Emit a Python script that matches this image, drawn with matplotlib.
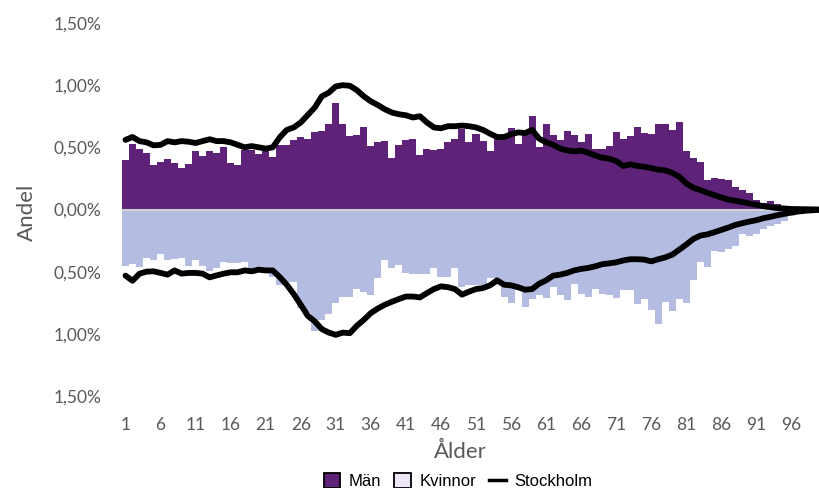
import matplotlib
matplotlib.use("Agg")
import matplotlib.pyplot as plt
from matplotlib.patches import Patch
from matplotlib.lines import Line2D
import numpy as np

ages = list(range(1, 101))

# Andel män (%), per ålder
man = [0.395, 0.53, 0.49, 0.457, 0.355, 0.385, 0.41, 0.377, 0.336, 0.368,
       0.473, 0.43, 0.473, 0.457, 0.50, 0.37, 0.36, 0.475, 0.48, 0.45,
       0.47, 0.42, 0.516, 0.516, 0.56, 0.583, 0.57, 0.626, 0.635, 0.69,
       0.86, 0.69, 0.59, 0.60, 0.66, 0.51, 0.546, 0.554, 0.417, 0.516,
       0.56, 0.567, 0.44, 0.49, 0.48, 0.49, 0.54, 0.57, 0.645, 0.546,
       0.61, 0.55, 0.473, 0.575, 0.58, 0.653, 0.527, 0.62, 0.755, 0.50,
       0.685, 0.60, 0.556, 0.635, 0.60, 0.54, 0.61, 0.49, 0.49, 0.51,
       0.62, 0.57, 0.59, 0.66, 0.613, 0.605, 0.69, 0.685, 0.64, 0.70,
       0.468, 0.417, 0.38, 0.236, 0.25, 0.242, 0.234, 0.183, 0.153, 0.134,
       0.08, 0.054, 0.065, 0.043, 0.03, 0.02, 0.015, 0.01, 0.005, 0.003]

# Andel kvinnor (%), per ålder
kvinnor = [0.457, 0.435, 0.46, 0.39, 0.41, 0.355, 0.41, 0.395, 0.39, 0.457,
           0.403, 0.457, 0.497, 0.47, 0.425, 0.43, 0.43, 0.42, 0.52, 0.48,
           0.48, 0.54, 0.605, 0.58, 0.58, 0.79, 0.83, 0.976, 0.887, 0.84,
           0.75, 0.707, 0.707, 0.64, 0.66, 0.69, 0.55, 0.41, 0.47, 0.45,
           0.51, 0.516, 0.516, 0.516, 0.47, 0.54, 0.545, 0.47, 0.62, 0.61,
           0.605, 0.61, 0.55, 0.59, 0.70, 0.75, 0.65, 0.785, 0.718, 0.69,
           0.71, 0.62, 0.69, 0.726, 0.597, 0.68, 0.70, 0.64, 0.68, 0.685,
           0.71, 0.65, 0.645, 0.76, 0.72, 0.806, 0.92, 0.74, 0.82, 0.72,
           0.75, 0.57, 0.425, 0.46, 0.336, 0.34, 0.317, 0.296, 0.20, 0.215,
           0.194, 0.156, 0.13, 0.113, 0.094, 0.054, 0.035, 0.02, 0.01, 0.005]

# Stockholm, män (%)
sthlm_man = [0.56, 0.583, 0.55, 0.54, 0.516, 0.52, 0.55, 0.54, 0.55, 0.545,
             0.535, 0.55, 0.565, 0.55, 0.55, 0.54, 0.52, 0.50, 0.51, 0.50,
             0.49, 0.50, 0.58, 0.64, 0.66, 0.70, 0.76, 0.82, 0.91, 0.94,
             0.99, 1.00, 0.995, 0.96, 0.91, 0.87, 0.84, 0.806, 0.78, 0.766,
             0.758, 0.74, 0.75, 0.70, 0.66, 0.653, 0.67, 0.67, 0.675, 0.67,
             0.66, 0.64, 0.61, 0.583, 0.583, 0.605, 0.62, 0.615, 0.64, 0.57,
             0.54, 0.52, 0.49, 0.475, 0.468, 0.473, 0.457, 0.435, 0.417, 0.408,
             0.39, 0.35, 0.363, 0.35, 0.344, 0.333, 0.32, 0.315, 0.295, 0.263,
             0.21, 0.175, 0.156, 0.135, 0.115, 0.097, 0.08, 0.07, 0.06, 0.048,
             0.038, 0.027, 0.019, 0.011, 0.008, 0.004, 0.003, 0.002, 0.001, 0.0]

# Stockholm, kvinnor (%)
sthlm_kv = [0.532, 0.573, 0.516, 0.50, 0.497, 0.51, 0.524, 0.49, 0.516, 0.51,
            0.51, 0.516, 0.546, 0.53, 0.516, 0.505, 0.505, 0.49, 0.497, 0.484,
            0.49, 0.49, 0.543, 0.605, 0.68, 0.766, 0.855, 0.90, 0.962, 0.99,
            1.008, 0.99, 0.995, 0.935, 0.887, 0.833, 0.796, 0.766, 0.742, 0.72,
            0.70, 0.70, 0.707, 0.672, 0.64, 0.618, 0.625, 0.64, 0.685, 0.661,
            0.64, 0.632, 0.61, 0.57, 0.605, 0.61, 0.625, 0.645, 0.64, 0.597,
            0.57, 0.532, 0.524, 0.51, 0.49, 0.478, 0.47, 0.457, 0.44, 0.433,
            0.425, 0.41, 0.40, 0.40, 0.403, 0.417, 0.40, 0.385, 0.363, 0.323,
            0.282, 0.237, 0.21, 0.20, 0.183, 0.164, 0.145, 0.124, 0.11, 0.097,
            0.086, 0.07, 0.059, 0.046, 0.035, 0.024, 0.016, 0.01, 0.006, 0.003]

xtick_labels = list(range(1, 97, 5))
ytick_vals = [-1.5, -1.0, -0.5, 0.0, 0.5, 1.0, 1.5]

PURPLE = "#5e2378"
LIGHT = "#b4bde1"
GRAY = "#595959"

fig = plt.figure(figsize=(8.2, 4.88), dpi=100)
ax = fig.add_axes([122/820, 1 - 396/488, (823 - 122)/820, (396 - 23)/488])

x = np.array(ages)
ax.bar(x, man, width=1.0, color=PURPLE, linewidth=0, zorder=2)
ax.bar(x, -np.array(kvinnor), width=1.0, color=LIGHT, linewidth=0, zorder=2)
ax.axhline(0, color="#d0d0d0", lw=1.5, zorder=3)
ax.plot(x, sthlm_man, color="black", lw=4.2, solid_joinstyle="round",
        solid_capstyle="round", zorder=4)
ax.plot(x, -np.array(sthlm_kv), color="black", lw=4.2, solid_joinstyle="round",
        solid_capstyle="round", zorder=4)

ax.set_xlim(0.5, 100.5)
ax.set_ylim(-1.5, 1.5)
for s in ax.spines.values():
    s.set_visible(False)

ax.set_yticks(ytick_vals)
ax.set_yticklabels([f"{abs(v):.2f}%".replace(".", ",") for v in ytick_vals],
                   fontsize=12.5, color=GRAY, family="Lato")
ax.set_xticks(xtick_labels)
ax.set_xticklabels([str(v) for v in xtick_labels], fontsize=12.5, color=GRAY,
                   family="Lato")
ax.tick_params(axis="y", length=0, pad=15)
ax.tick_params(axis="x", length=0, pad=15)

fig.text(27/820, 1 - 212/488, "Andel", rotation=90, ha="center", va="center",
         fontsize=16, color=GRAY, family="Lato")
fig.text(460/820, 1 - 452/488, "Ålder", ha="center", va="center",
         fontsize=16, color=GRAY, family="Lato")

handles = [Patch(facecolor=PURPLE, edgecolor="black", linewidth=1.3),
           Patch(facecolor="#efe6f7", edgecolor="black", linewidth=1.3),
           Line2D([0], [0], color="black", lw=2.5)]
fig.legend(handles, ["Män", "Kvinnor", "Stockholm"], ncol=3, loc="center",
           bbox_to_anchor=(458/820, 1 - 481/488), frameon=False,
           prop={"family": "Liberation Sans", "size": 12},
           handlelength=1.0, handleheight=1.0, handletextpad=0.5,
           columnspacing=0.8, borderpad=0.1)

fig.savefig("out.png", dpi=100)
